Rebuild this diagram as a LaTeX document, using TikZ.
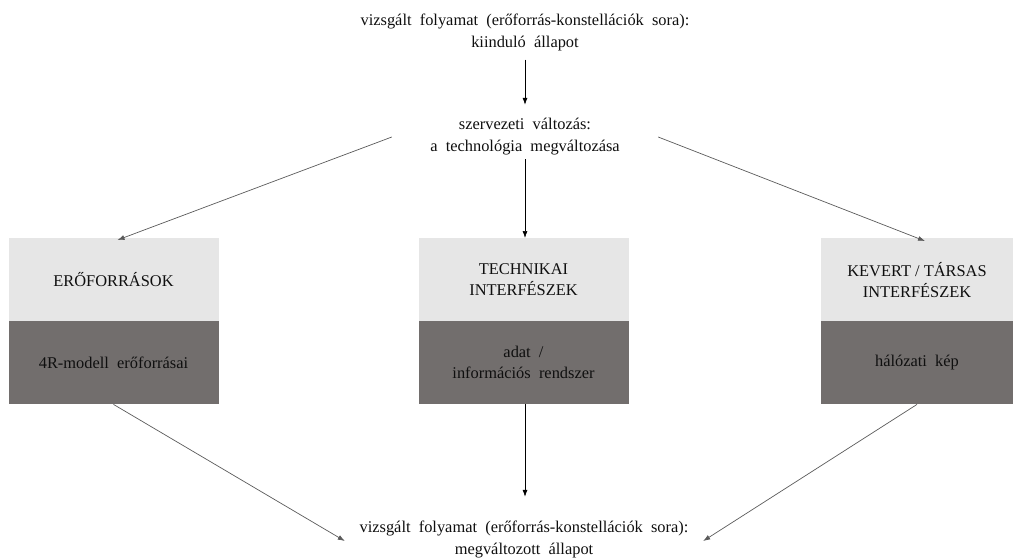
\documentclass[tikz,border=0pt]{standalone}
\usepackage{fontspec}
\setmainfont{Liberation Serif}
\usetikzlibrary{arrows.meta,calc}
\definecolor{lightbox}{RGB}{230,230,230}
\definecolor{darkbox}{RGB}{114,110,109}
\definecolor{linegray}{RGB}{90,90,90}
\definecolor{txtcol}{RGB}{15,15,15}
\begin{document}
\begin{tikzpicture}[x=1pt,y=-1pt,
  txt/.style={align=center,font=\rmfamily\fontsize{16.4}{22}\selectfont,inner sep=0pt,text=txtcol},
  topbox/.style={fill=lightbox,minimum width=210pt,minimum height=83pt,inner sep=0pt,align=center,font=\rmfamily\fontsize{16.4}{21}\selectfont,anchor=north,text=txtcol},
  botbox/.style={topbox,fill=darkbox},
  conn/.style={draw=linegray,line width=0.7pt,-{Latex[length=7pt,width=5pt]}},
  vconn/.style={draw=black,line width=0.7pt,-{Latex[length=7pt,width=5pt]}}]
\useasboundingbox (0,0) rectangle (1017,558);
\node[txt] (start) at (525,32) {vizsgált\ \ folyamat\ \ (erőforrás-konstellációk\ \ sora):\\kiinduló\ \ állapot};
\node[txt,minimum width=266pt,minimum height=44pt] (change) at (525,137) {szervezeti\ \ változás:\\a\ \ technológia\ \ megváltozása};
\node[topbox] (r1) at (113.5,238) {ERŐFORRÁSOK};
\node[botbox] (r2) at (113.5,321) {4R-modell\ \ erőforrásai};
\node[topbox] (t1) at (523.5,238) {TECHNIKAI\\INTERFÉSZEK};
\node[botbox] (t2) at (523.5,321) {adat\ \ /\\információs\ \ rendszer};
\node[topbox,minimum width=192pt] (k1) at (917,238) {KEVERT / TÁRSAS\\INTERFÉSZEK};
\node[botbox,minimum width=192pt] (k2) at (917,321) {hálózati\ \ kép};
\node[txt,minimum width=358pt,minimum height=44pt] (end) at (524,539) {vizsgált\ \ folyamat\ \ (erőforrás-konstellációk\ \ sora):\\megváltozott\ \ állapot};
\draw[vconn,shorten <=9pt,shorten >=10pt] (start.south -| change.north) -- (change.north);
\draw[conn] (change.west) -- ([xshift=4pt,yshift=-2pt]r1.north);
\draw[conn] (change.east) -- ([xshift=8pt,yshift=-3pt]k1.north);
\draw[vconn] (change.south) -- (t1.north -| change.south);
\draw[conn] (r2.south) -- ([yshift=-2pt]end.west);
\draw[conn] (k2.south) -- ([yshift=-2pt]end.east);
\draw[vconn,shorten >=20pt] (t2.south -| change.south) -- (end.north -| change.south);
\end{tikzpicture}
\end{document}
